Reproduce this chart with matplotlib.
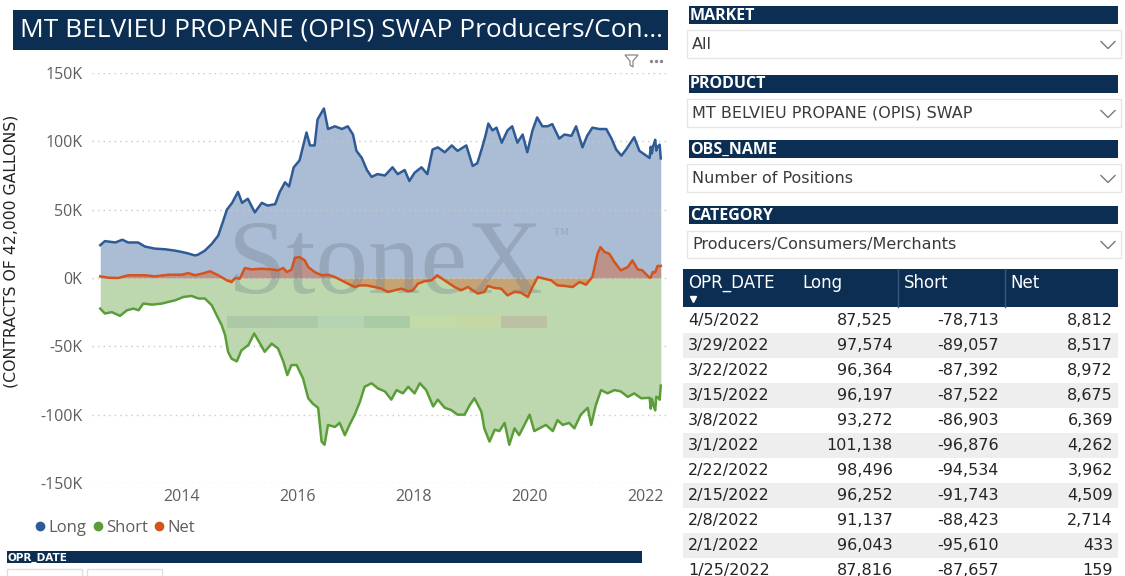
import numpy as np
import pandas as pd
import matplotlib
matplotlib.use('Agg')
import matplotlib.pyplot as plt
from matplotlib.patches import Rectangle, Polygon
from matplotlib.lines import Line2D
from matplotlib.ticker import FuncFormatter

plt.rcParams['font.family'] = ['Open Sans', 'DejaVu Sans']

W, H = 1125, 576

# ---- series: decimal year, thousands of contracts ----
long_year = [2012.61, 2012.69, 2012.87, 2012.99, 2013.09, 2013.26, 2013.38, 2013.55, 2013.73, 2013.90,
             2014.02, 2014.12, 2014.24, 2014.29, 2014.41, 2014.53, 2014.64, 2014.72, 2014.79, 2014.88,
             2014.98, 2015.05, 2015.15, 2015.27, 2015.39, 2015.49, 2015.62, 2015.70, 2015.79, 2015.86,
             2015.94, 2016.04, 2016.16, 2016.22, 2016.30, 2016.35, 2016.46, 2016.53, 2016.65, 2016.77,
             2016.87, 2016.96, 2017.02, 2017.11, 2017.20, 2017.28, 2017.38, 2017.51, 2017.64, 2017.73,
             2017.85, 2017.93, 2018.02, 2018.14, 2018.24, 2018.33, 2018.42, 2018.54, 2018.66, 2018.76,
             2018.91, 2019.02, 2019.10, 2019.18, 2019.24, 2019.29, 2019.36, 2019.43, 2019.52, 2019.62,
             2019.70, 2019.79, 2019.88, 2019.96, 2020.05, 2020.13, 2020.22, 2020.31, 2020.39, 2020.51,
             2020.60, 2020.72, 2020.80, 2020.91, 2020.99, 2021.08, 2021.20, 2021.32, 2021.41, 2021.49,
             2021.58, 2021.66, 2021.80, 2021.89]
long_k = [24, 27, 26, 28, 26, 26, 23, 21.5, 21, 20,
          19, 18, 16.5, 17, 20, 25, 31, 41, 50, 55,
          63, 55, 58, 48, 55, 53, 54, 63, 70, 67,
          81, 86, 106.5, 97, 97, 116, 124, 109, 111, 109,
          111, 105, 93, 88, 79, 74, 76, 75, 81, 76,
          79, 71, 77, 81, 76, 94, 95.6, 92, 97, 93,
          97, 82, 84, 95, 104, 113, 108, 110, 99, 108,
          111, 99, 105, 92, 108, 117.5, 111, 111, 112.6, 102,
          105, 104, 111, 95.6, 104, 110, 109, 109, 102, 94,
          89.5, 94, 103, 93]

short_year = [2012.61, 2012.69, 2012.81, 2012.95, 2013.07, 2013.18, 2013.27, 2013.35, 2013.50, 2013.67,
              2013.78, 2013.90, 2014.04, 2014.18, 2014.30, 2014.41, 2014.53, 2014.61, 2014.70, 2014.76,
              2014.81, 2014.87, 2014.96, 2015.04, 2015.16, 2015.26, 2015.36, 2015.44, 2015.56, 2015.67,
              2015.76, 2015.83, 2015.90, 2015.99, 2016.10, 2016.19, 2016.27, 2016.36, 2016.42, 2016.47,
              2016.53, 2016.65, 2016.73, 2016.82, 2016.90, 2016.99, 2017.08, 2017.16, 2017.28, 2017.39,
              2017.51, 2017.62, 2017.71, 2017.82, 2017.91, 2018.02, 2018.11, 2018.22, 2018.34, 2018.42,
              2018.54, 2018.65, 2018.76, 2018.88, 2018.97, 2019.05, 2019.17, 2019.22, 2019.31, 2019.40,
              2019.48, 2019.57, 2019.65, 2019.74, 2019.82, 2019.91, 2020.00, 2020.08, 2020.17, 2020.28,
              2020.40, 2020.48, 2020.57, 2020.68, 2020.77, 2020.88, 2021.00, 2021.06, 2021.14, 2021.23,
              2021.34, 2021.46, 2021.57, 2021.69, 2021.80, 2021.92]
short_k = [-22.4, -26, -25, -27.7, -23.6, -22.4, -23.6, -18.7, -19.5, -18.7,
           -17.5, -16.3, -13.9, -13.1, -15, -15, -20, -27, -34.5, -42,
           -54, -59, -61, -53, -49, -40.6, -48, -54, -48, -51.6,
           -61, -71, -63.7, -63.7, -73.5, -88, -92, -95, -119.7, -122,
           -107.5, -109, -106, -115, -107.5, -100, -90.5, -79.6, -77, -80.8,
           -83, -89, -82, -84.4, -79.6, -84.4, -77, -82, -94, -89,
           -95, -96.6, -100, -100, -93, -88, -97.8, -110, -119.7, -111,
           -112, -106, -122, -110, -115, -107.5, -100, -112, -110, -107.5,
           -112, -104, -107.5, -106, -110, -100, -95, -107.5, -93, -82,
           -84.4, -82, -83, -87, -84.4, -88]

net_year = [2012.61, 2012.75, 2012.92, 2013.09, 2013.38, 2013.55, 2013.78, 2014.01, 2014.13, 2014.24,
            2014.36, 2014.50, 2014.64, 2014.79, 2014.87, 2014.93, 2015.01, 2015.10, 2015.21, 2015.39,
            2015.56, 2015.67, 2015.76, 2015.82, 2015.90, 2015.96, 2016.04, 2016.13, 2016.19, 2016.30,
            2016.42, 2016.53, 2016.65, 2016.76, 2016.87, 2016.99, 2017.08, 2017.19, 2017.33, 2017.45,
            2017.56, 2017.68, 2017.79, 2017.91, 2017.99, 2018.08, 2018.19, 2018.31, 2018.41, 2018.51,
            2018.62, 2018.71, 2018.82, 2018.94, 2019.02, 2019.11, 2019.22, 2019.28, 2019.40, 2019.51,
            2019.62, 2019.74, 2019.85, 2019.97, 2020.05, 2020.14, 2020.25, 2020.37, 2020.48, 2020.60,
            2020.74, 2020.86, 2020.97, 2021.08, 2021.17, 2021.22, 2021.29, 2021.37, 2021.46, 2021.57,
            2021.69, 2021.77, 2021.86, 2021.94]
net_k = [1.2, 0.2, 0, 2, 2, 1.2, 2.4, 2.4, 3.6, 2,
         3.2, 4.9, 2, -1.7, -3, 0, -0.5, 7.3, 6.3, 6.8,
         6.3, 5.6, 7.3, 4.4, 6, 14.8, 15.3, 12.9, 8, 4.4,
         2, 2.4, 0.7, -1.7, -4.1, -6.6, -5.4, -5.4, -6.6, -7.8,
         -10.2, -9, -7.8, -9.7, -9, -4.1, -2.4, -1.7, 2, -1,
         -4.1, -6.6, -9, -6.6, -9, -11.4, -10.2, -5.8, -7.3, -7.8,
         -12.7, -10.2, -10.7, -13.9, -6.6, 0.7, -0.5, -1.7, -5.4, -5.8,
         -6.6, -2.9, -4.9, 0.7, 17.8, 22.6, 19, 17.8, 11.7, 5.6,
         8, 12.9, 6.3, 5.6]

# ---- table on the right (exact values) ----
table_dates = ['4/5/2022', '3/29/2022', '3/22/2022', '3/15/2022', '3/8/2022', '3/1/2022',
               '2/22/2022', '2/15/2022', '2/8/2022', '2/1/2022', '1/25/2022']
table_long = [87525, 97574, 96364, 96197, 93272, 101138, 98496, 96252, 91137, 96043, 87816]
table_short = [-78713, -89057, -87392, -87522, -86903, -96876, -94534, -91743, -88423, -95610, -87657]
table_net = [8812, 8517, 8972, 8675, 6369, 4262, 3962, 4509, 2714, 433, 159]
table_columns = ['OPR_DATE', 'Long', 'Short', 'Net']

year_ticks = [2014, 2016, 2018, 2020, 2022]
value_ticks = [-150000, -100000, -50000, 0, 50000, 100000, 150000]

slicers = [('MARKET', 'All'),
           ('PRODUCT', 'MT BELVIEU PROPANE (OPIS) SWAP'),
           ('OBS_NAME', 'Number of Positions'),
           ('CATEGORY', 'Producers/Consumers/Merchants')]

title = 'MT BELVIEU PROPANE (OPIS) SWAP Producers/Con...'
ylabel = '(CONTRACTS OF 42,000 GALLONS)'

NAVY = '#0c2e52'
LONG_C = '#2e5b96'
SHORT_C = '#5b9e39'
NET_C = '#d4541e'
TICK_C = '#605e5c'


def fx(px):
    return px / W


def fy(py):
    return 1 - py / H


fig = plt.figure(figsize=(W / 100, H / 100), dpi=100)


def box(x0, y0, x1, y1, **kw):
    fig.add_artist(Rectangle((fx(x0), fy(y1)), (x1 - x0) / W, (y1 - y0) / H,
                             transform=fig.transFigure, **kw))


# ---- series: chart readings followed by the table rows ----
td = pd.to_datetime(table_dates, format='%m/%d/%Y')
t_year = np.asarray(td.year + (td.dayofyear - 1) / 365.0)
order = np.argsort(t_year)

x_long = np.concatenate([long_year, t_year[order]])
y_long = np.concatenate([np.array(long_k) * 1000, np.array(table_long)[order]])
x_short = np.concatenate([short_year, t_year[order]])
y_short = np.concatenate([np.array(short_k) * 1000, np.array(table_short)[order]])
x_net = np.concatenate([net_year, t_year[order]])
y_net = np.concatenate([np.array(net_k) * 1000, np.array(table_net)[order]])

# ---- chart ----
ax = fig.add_axes([fx(92), fy(483), 576 / W, 410 / H])
ax.fill_between(x_long, 0, y_long, color=LONG_C, alpha=0.4, lw=0, zorder=1)
ax.fill_between(x_short, 0, y_short, color=SHORT_C, alpha=0.4, lw=0, zorder=1)
ax.fill_between(x_net, 0, y_net, color=NET_C, alpha=0.4, lw=0, zorder=1.1)

# StoneX watermark
ax.text(fx(228), fy(293), 'StoneX', transform=fig.transFigure, family='Liberation Serif',
        fontsize=75.5, color='#6e7d8c', alpha=0.33, ha='left', va='baseline', zorder=1.5)
ax.text(fx(552), fy(238), '\u2122', transform=fig.transFigure, family='Liberation Serif',
        fontsize=12, color='#6e7d8c', alpha=0.33, ha='left', va='baseline', zorder=1.5)
strip = ['#a9c5a6', '#a9c7a7', '#b3d3b5', '#a6c9a3', '#c5dca6', '#c8d9a0', '#bcbca0']
for i, c in enumerate(strip):
    ax.add_patch(Rectangle((fx(227 + i * 45.7), fy(328)), 45.7 / W, 12 / H,
                           transform=fig.transFigure, color=c, alpha=0.8, lw=0, zorder=1.5))

ax.plot(x_long, y_long, color=LONG_C, lw=1.8, zorder=2)
ax.plot(x_short, y_short, color=SHORT_C, lw=1.8, zorder=2)
ax.plot(x_net, y_net, color=NET_C, lw=1.8, zorder=2.1)

ax.set_xlim(2012.468, 2022.382)
ax.set_ylim(-150000, 150000)
ax.set_xticks(year_ticks)
ax.set_xticklabels([str(y) for y in year_ticks])
ax.set_yticks(value_ticks)
ax.yaxis.set_major_formatter(FuncFormatter(lambda v, p: '%dK' % round(v / 1000)))
ax.grid(axis='y', linestyle=(0, (1, 3)), color='#c8c8c8', lw=1)
ax.grid(axis='x', visible=False)
for s in ax.spines.values():
    s.set_visible(False)
ax.tick_params(axis='both', length=0, labelsize=11.5, labelcolor=TICK_C)
ax.tick_params(axis='y', pad=7)
ax.tick_params(axis='x', pad=4.5)
ax.set_facecolor('none')

fig.text(fx(11), fy(251), ylabel, rotation=90, ha='center', va='center',
         family='DejaVu Sans', fontsize=11.3, color='#252423')

# legend
handles = [Line2D([], [], ls='', marker='o', ms=6, color=c, label=n)
           for n, c in [('Long', LONG_C), ('Short', SHORT_C), ('Net', NET_C)]]
fig.legend(handles=handles, loc='center left', bbox_to_anchor=(fx(36), fy(528)), ncol=3,
           frameon=False, handlelength=0.5, handletextpad=0.25, columnspacing=0.42,
           borderpad=0, borderaxespad=0, prop=dict(family='Open Sans', size=12),
           labelcolor=TICK_C)

# title bar
box(13, 10, 668, 50, color=NAVY, lw=0)
t = fig.text(fx(20), fy(30), title, color='white', fontsize=17, ha='left', va='center')
fig.canvas.draw()
w = t.get_window_extent(fig.canvas.get_renderer()).width
t.set_fontsize(17 * 642 / w)

# filter icon and more-options dots
fig.add_artist(Polygon([(fx(625), fy(55)), (fx(638), fy(55)), (fx(633), fy(61)), (fx(633), fy(67)),
                        (fx(630), fy(65)), (fx(630), fy(61))], closed=True, fill=False,
                       edgecolor='#8a8886', lw=0.9, transform=fig.transFigure))
for dx in [651, 656, 661]:
    fig.add_artist(Line2D([fx(dx)], [fy(61)], marker='o', ms=1.4, color='#8a8886',
                          transform=fig.transFigure))

# date slicer at the bottom
box(7, 551, 642, 563, color=NAVY, lw=0)
fig.text(fx(8), fy(557.5), 'OPR_DATE', color='white', fontsize=7.5, weight='bold',
         family='DejaVu Sans', ha='left', va='center')
box(7, 569, 82, 590, facecolor='white', edgecolor='#e1dfdd', lw=1)
box(87, 569, 162, 590, facecolor='white', edgecolor='#e1dfdd', lw=1)

# ---- slicers on the right ----
slicer_top = [6, 75, 140, 206]
for (head, value), y0 in zip(slicers, slicer_top):
    box(689, y0, 1118, y0 + 18, color=NAVY, lw=0)
    fig.text(fx(690), fy(y0 + 9.5), head, color='white', fontsize=11.5, weight='bold',
             ha='left', va='center')
    b0 = y0 + 24.5
    box(687, b0, 1121, b0 + 27.5, facecolor='white', edgecolor='#e6e6e6', lw=1)
    cy = b0 + 14
    fig.text(fx(692), fy(cy), value, color='#3b3a39', fontsize=11.5, family='DejaVu Sans',
             ha='left', va='center')
    fig.add_artist(Line2D([fx(1101), fx(1108), fx(1115)], [fy(cy - 3), fy(cy + 4), fy(cy - 3)],
                          color='#7a7a7a', lw=1, transform=fig.transFigure))

# ---- table ----
box(683, 269, 1118, 307, color=NAVY, lw=0)
for sx in [898, 1005]:
    fig.add_artist(Line2D([fx(sx), fx(sx)], [fy(269), fy(307)], color='#3d5876', lw=1,
                          transform=fig.transFigure))
for name, hx in zip(table_columns, [688, 802, 904, 1010]):
    fig.text(fx(hx), fy(283), name, color='white', fontsize=12, family='DejaVu Sans',
             ha='left', va='center')
fig.add_artist(Line2D([fx(693)], [fy(299)], marker='v', ms=5, color='white', lw=0,
                      transform=fig.transFigure))

for i in range(len(table_dates)):
    y0 = 307.5 + 25 * i
    box(683, y0, 1118, y0 + 25, color='white' if i % 2 == 0 else '#eeeeee', lw=0)
    cy = y0 + 13
    fig.text(fx(688), fy(cy), table_dates[i], fontsize=11.5, family='DejaVu Sans',
             color='#252423', ha='left', va='center')
    for v, rx in zip([table_long[i], table_short[i], table_net[i]], [893, 999, 1113]):
        fig.text(fx(rx), fy(cy), '{:,}'.format(v), fontsize=11.5, family='DejaVu Sans',
                 color='#252423', ha='right', va='center')

fig.savefig('out.png', dpi=100)
